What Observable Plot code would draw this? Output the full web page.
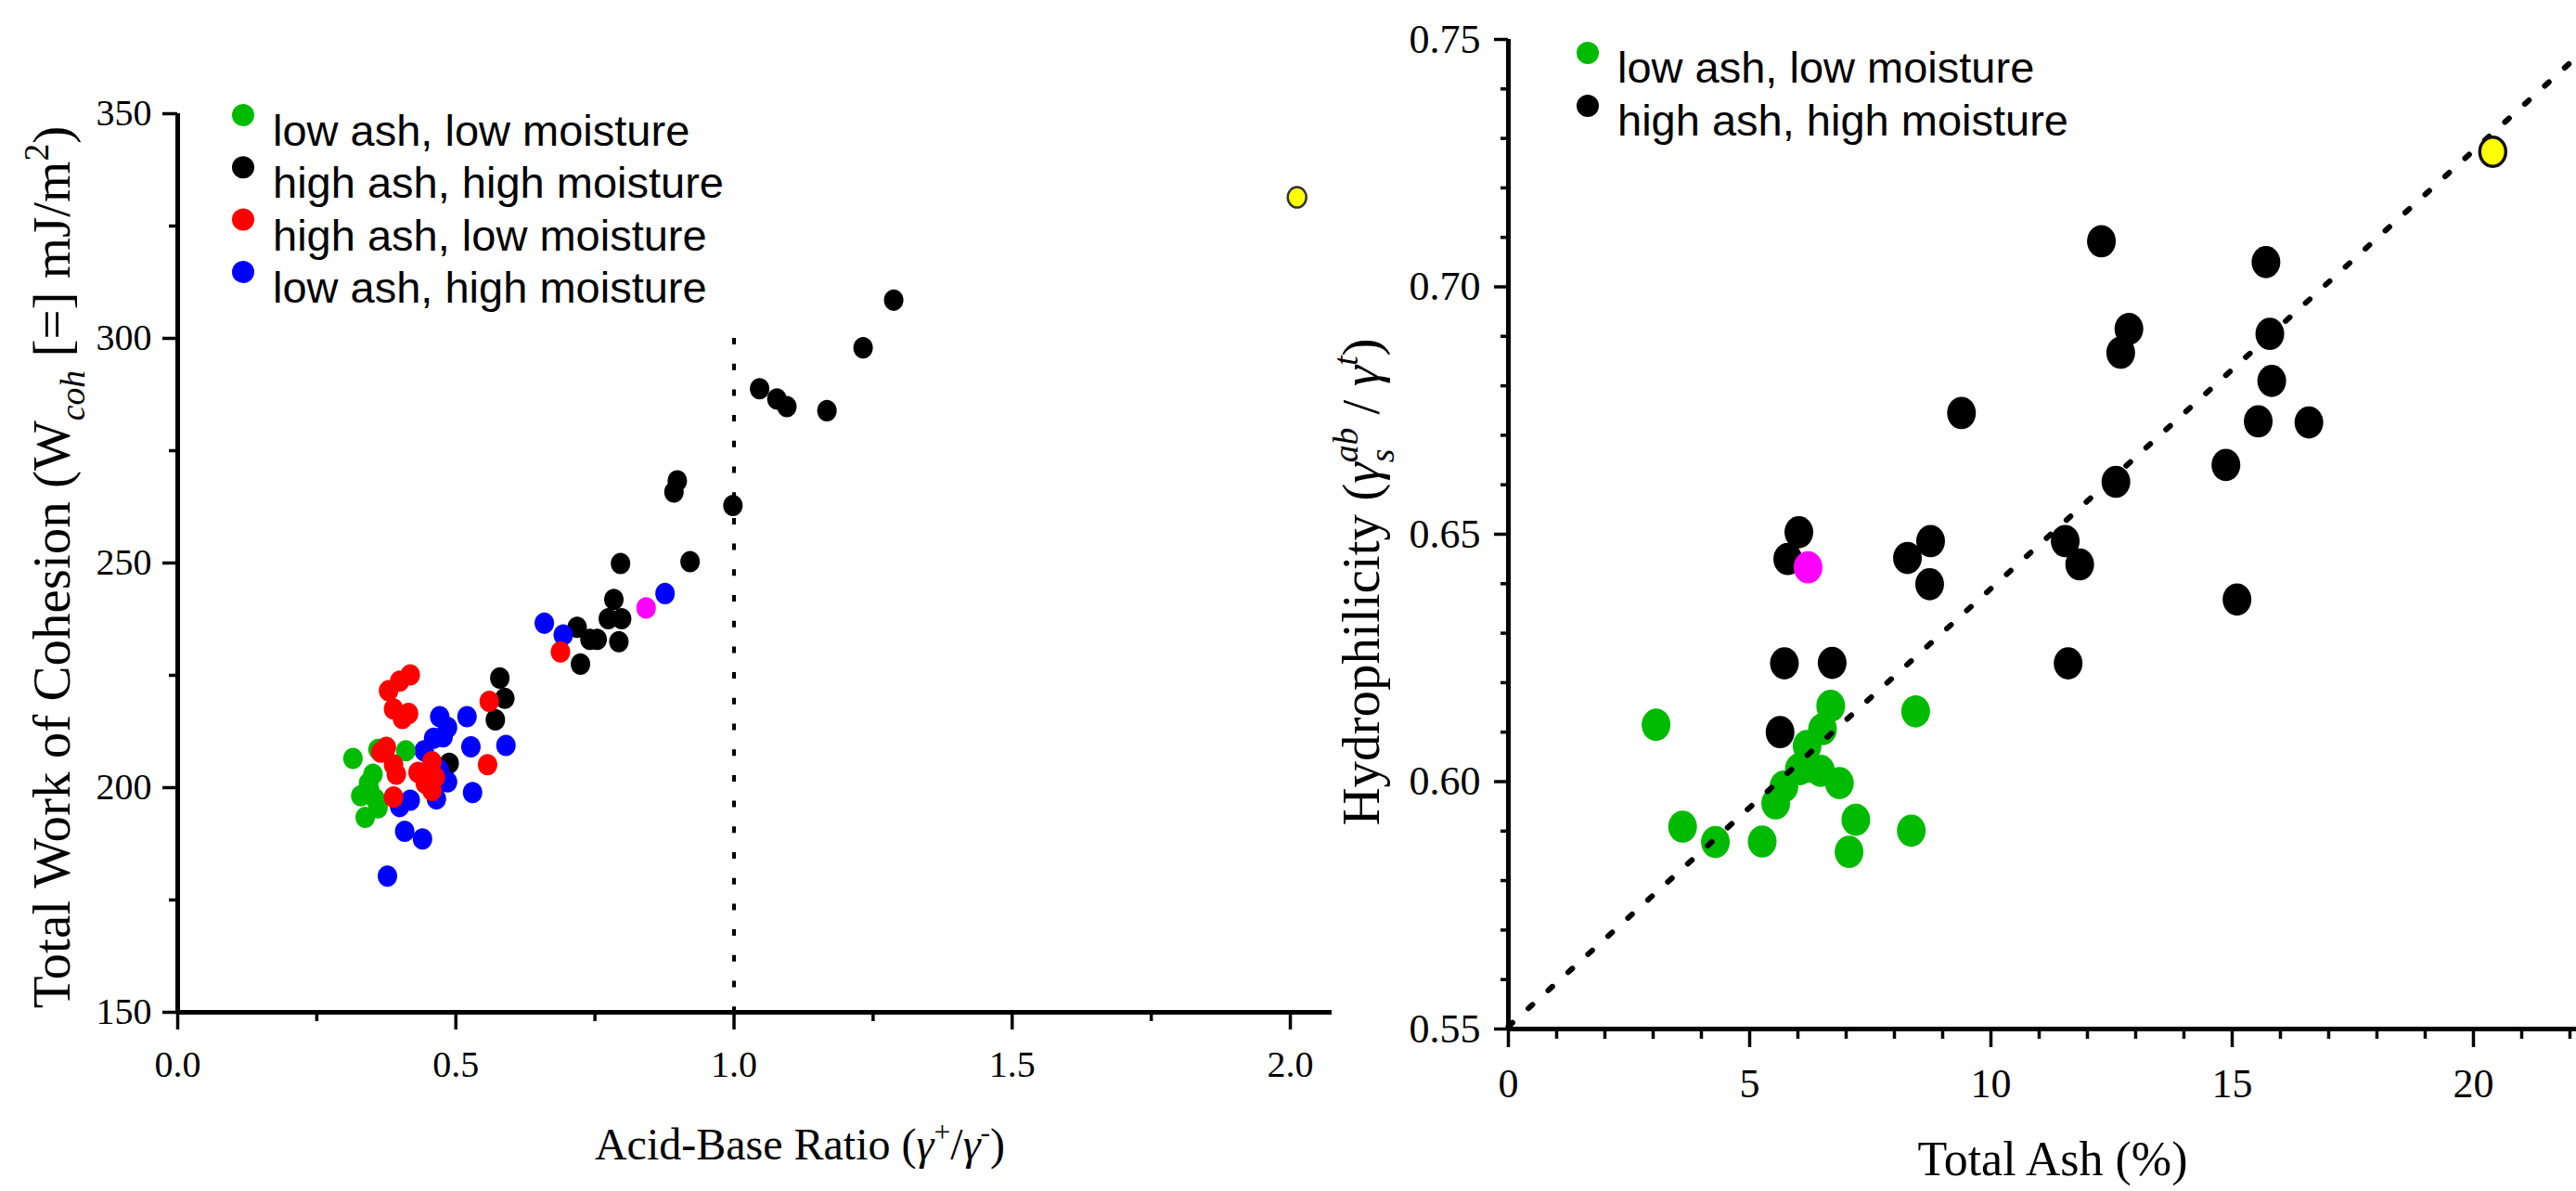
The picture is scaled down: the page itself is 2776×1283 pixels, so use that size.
<!DOCTYPE html>
<html><head><meta charset="utf-8">
<script src="https://cdn.jsdelivr.net/npm/d3@7"></script>
<script src="https://cdn.jsdelivr.net/npm/@observablehq/plot@0.6"></script>
<style>
html,body{margin:0;padding:0;background:#fff;}
#wrap{position:relative;width:2776px;height:1283px;overflow:hidden;background:#fff;}
#left{position:absolute;left:0;top:0;}
#right{position:absolute;left:1440px;top:0;}
</style></head>
<body><div id="wrap"><div id="left"></div><div id="right"></div></div>
<script>
// ---------- Left panel: Acid-Base Ratio vs Total Work of Cohesion ----------
const leftCategories = ["low ash, low moisture", "high ash, high moisture", "high ash, low moisture", "low ash, high moisture"];
const leftColors = ["#00bb00", "#000000", "#ff0000", "#0000ff"];

const cohBlackX = [0.796, 0.921, 0.784, 0.774, 0.798, 0.718, 0.741, 0.754, 0.793, 0.724, 0.579, 0.588, 0.571, 0.488, 1.287, 1.232, 1.046, 1.077, 1.095, 1.167, 0.898, 0.892, 0.998];
const cohBlackY = [249.9, 250.3, 241.9, 237.6, 237.6, 235.7, 233.0, 233.0, 232.5, 227.5, 224.4, 219.9, 215.1, 205.4, 308.5, 297.9, 288.8, 286.5, 284.8, 283.9, 268.3, 265.8, 262.8];
const cohBlueX = [0.876, 0.659, 0.693, 0.471, 0.520, 0.485, 0.477, 0.460, 0.443, 0.527, 0.590, 0.485, 0.465, 0.530, 0.418, 0.399, 0.408, 0.440, 0.377, 0.470];
const cohBlueY = [243.2, 236.6, 234.0, 215.8, 215.8, 213.4, 211.3, 211.0, 208.2, 209.1, 209.4, 201.3, 197.5, 198.9, 197.2, 195.8, 190.3, 188.6, 180.3, 204.0];
const cohGreenX = [0.315, 0.360, 0.410, 0.351, 0.343, 0.329, 0.355, 0.360, 0.337, 0.345];
const cohGreenY = [206.5, 208.5, 208.2, 203.0, 201.0, 198.2, 197.5, 195.5, 193.4, 199.5];
const cohRedX = [0.418, 0.399, 0.379, 0.388, 0.415, 0.404, 0.560, 0.688, 0.557, 0.365, 0.388, 0.393, 0.388, 0.432, 0.457, 0.463, 0.457, 0.375, 0.445];
const cohRedY = [225.1, 223.7, 221.6, 217.5, 216.5, 215.4, 219.2, 230.2, 205.1, 207.9, 205.1, 203.0, 197.9, 203.4, 205.8, 202.3, 199.4, 209.0, 201.0];
const cohMagentaX = [0.842];
const cohMagentaY = [240.0];
const cohYellowX = [2.012];
const cohYellowY = [331.4];
const dividerX = [1.0];
const dividerY = [150, 300];

const leftYTicks = [150, 200, 250, 300, 350];
const leftYTickLabels = ["150", "200", "250", "300", "350"];
const leftYMinor = [175, 225, 275, 325];
const leftXTicks = [0, 0.5, 1.0, 1.5, 2.0];
const leftXTickLabels = ["0.0", "0.5", "1.0", "1.5", "2.0"];
const leftXMinor = [0.25, 0.75, 1.25, 1.75];

// ---------- Right panel: Total Ash vs Hydrophilicity ----------
const rightCategories = ["low ash, low moisture", "high ash, high moisture"];
const rightColors = ["#00bb00", "#000000"];

const hydBlackX = [12.29, 15.70, 12.86, 12.69, 15.78, 15.82, 9.39, 15.54, 16.59, 14.87, 12.59, 6.02, 5.79, 8.75, 8.27, 8.73, 11.54, 11.84, 15.10, 5.72, 6.71, 11.60, 5.63];
const hydBlackY = [0.7092, 0.7050, 0.6915, 0.6867, 0.6905, 0.6810, 0.6745, 0.6728, 0.6726, 0.6640, 0.6606, 0.6504, 0.6450, 0.6486, 0.6452, 0.6399, 0.6486, 0.6439, 0.6368, 0.6239, 0.6240, 0.6239, 0.6100];
const hydGreenX = [3.06, 8.44, 6.68, 6.51, 6.19, 6.03, 6.47, 6.86, 5.71, 5.54, 3.61, 4.29, 5.26, 7.20, 7.06, 8.35, 6.25];
const hydGreenY = [0.6115, 0.6142, 0.6153, 0.6106, 0.6072, 0.6025, 0.6022, 0.5997, 0.5990, 0.5956, 0.5909, 0.5878, 0.5879, 0.5923, 0.5858, 0.5901, 0.6030];
const hydMagentaX = [6.21];
const hydMagentaY = [0.6433];
const hydYellowX = [20.40];
const hydYellowY = [0.7273];
const trendX = [0, 22.2];
const trendY = [0.5505, 0.7470];

const rightYTicks = [0.55, 0.60, 0.65, 0.70, 0.75];
const rightYTickLabels = ["0.55", "0.60", "0.65", "0.70", "0.75"];
const rightYMinor = [0.56, 0.57, 0.58, 0.59, 0.61, 0.62, 0.63, 0.64, 0.66, 0.67, 0.68, 0.69, 0.71, 0.72, 0.73, 0.74];
const rightXTicks = [0, 5, 10, 15, 20];
const rightXTickLabels = ["0", "5", "10", "15", "20"];
const rightXMinor = [1, 2, 3, 4, 6, 7, 8, 9, 11, 12, 13, 14, 16, 17, 18, 19, 21, 22];

// ---------- helpers ----------
const SERIF = "'Liberation Serif', 'Times New Roman', serif";
const SANS = "'Liberation Sans', Arial, sans-serif";
const ellipse = (ratio) => ({
  draw(ctx, size) {
    const rx = Math.sqrt(size / Math.PI), ry = rx * ratio, k = 0.5523;
    ctx.moveTo(rx, 0);
    ctx.bezierCurveTo(rx, k * ry, k * rx, ry, 0, ry);
    ctx.bezierCurveTo(-k * rx, ry, -rx, k * ry, -rx, 0);
    ctx.bezierCurveTo(-rx, -k * ry, -k * rx, -ry, 0, -ry);
    ctx.bezierCurveTo(k * rx, -ry, rx, -k * ry, rx, 0);
    ctx.closePath();
  }
});
const pts = (xs, ys) => xs.map((x, i) => ({x, y: ys[i]}));
const fmt = (ticks, labels) => (d) => labels[ticks.findIndex(t => Math.abs(t - d) < 1e-9)];

function tickFont(svg, size) {
  d3.select(svg).selectAll("g[aria-label$='tick label']")
    .style("font-size", size + "px").attr("font-size", size)
    .style("font-family", SERIF).attr("font-family", SERIF);
  d3.select(svg).selectAll("g[aria-label$='tick label'] text")
    .style("font-size", size + "px").style("font-family", SERIF);
}
function rich(svg, {x, y, rotate = 0, size, family = SERIF, anchor = "middle"}, parts) {
  const t = d3.select(svg).append("text")
    .attr("transform", `translate(${x},${y}) rotate(${rotate})`)
    .attr("text-anchor", anchor).attr("font-family", family)
    .attr("font-size", size).attr("fill", "black");
  let shift = 0, prev = null;
  for (const p of parts) {
    const ts = t.append("tspan").text(p.t);
    let target = 0, fs = size;
    if (p.sub) { target = 0.28 * size; fs = 0.66 * size; }
    if (p.sup) { target = -0.40 * size; fs = 0.66 * size; }
    if (p.italic) ts.attr("font-style", "italic");
    ts.attr("font-size", fs);
    if (target - shift !== 0) ts.attr("dy", target - shift);
    if (p.stack && prev) ts.attr("dx", -prev.node().getComputedTextLength());
    shift = target;
    prev = ts;
  }
  return t;
}
function legend(svg, {x, y0, step, textDx, textDy, size, r}, cats, colors) {
  const g = d3.select(svg).append("g").attr("text-anchor", "start");
  cats.forEach((c, i) => {
    g.append("circle").attr("cx", x).attr("cy", y0 + i * step).attr("r", r).attr("fill", colors[i]);
    g.append("text").attr("x", x + textDx).attr("y", y0 + i * step + textDy)
      .attr("text-anchor", "start")
      .attr("font-family", SANS).attr("font-size", size).attr("fill", "black").text(c);
  });
}

// ---------- left plot ----------
const leftDot = ellipse(1.1);
const leftSvg = Plot.plot({
  width: 1440, height: 1283,
  marginLeft: 191, marginRight: 5, marginTop: 122, marginBottom: 193,
  style: {fontFamily: SERIF, fontSize: "40px", background: "white", color: "black", overflow: "visible"},
  x: {domain: [0, 2.075]},
  y: {domain: [150, 350]},
  marks: [
    Plot.ruleX(dividerX, {y1: dividerY[1], y2: dividerY[0], stroke: "black", strokeWidth: 4, strokeDasharray: "7,20.7"}),
    Plot.dot(pts(cohBlackX, cohBlackY), {x: "x", y: "y", r: 10.5, fill: leftColors[1], symbol: leftDot}),
    Plot.dot(pts(cohBlueX, cohBlueY), {x: "x", y: "y", r: 10.5, fill: leftColors[3], symbol: leftDot}),
    Plot.dot(pts(cohGreenX, cohGreenY), {x: "x", y: "y", r: 10.5, fill: leftColors[0], symbol: leftDot}),
    Plot.dot(pts(cohRedX, cohRedY), {x: "x", y: "y", r: 10.5, fill: leftColors[2], symbol: leftDot}),
    Plot.dot(pts(cohMagentaX, cohMagentaY), {x: "x", y: "y", r: 10.5, fill: "#ff00ff", symbol: leftDot}),
    Plot.dot(pts(cohYellowX, cohYellowY), {x: "x", y: "y", r: 10, fill: "#ffff00", stroke: "#333", strokeWidth: 2.5, symbol: leftDot}),
    Plot.axisY({ticks: leftYMinor, tickSize: 9, tickFormat: () => "", strokeWidth: 3.5, label: null}),
    Plot.axisY({ticks: leftYTicks, tickSize: 16, tickPadding: 12, tickFormat: fmt(leftYTicks, leftYTickLabels), strokeWidth: 3.5, fontSize: 40, label: null}),
    Plot.axisX({ticks: leftXMinor, tickSize: 10, tickFormat: () => "", strokeWidth: 3.5, label: null}),
    Plot.axisX({ticks: leftXTicks, tickSize: 19, tickPadding: 22, tickFormat: fmt(leftXTicks, leftXTickLabels), strokeWidth: 3.5, fontSize: 40, label: null}),
    Plot.ruleX([0], {strokeWidth: 5}),
    Plot.ruleY([150], {strokeWidth: 5})
  ]
});
document.getElementById("left").appendChild(leftSvg);
tickFont(leftSvg, 40);
legend(leftSvg, {x: 262, y0: 124, step: 56.3, textDx: 32, textDy: 33, size: 47, r: 12}, leftCategories, leftColors);
rich(leftSvg, {x: 75, y: 611, rotate: -90, size: 57}, [
  {t: "Total Work of Cohesion (W"}, {t: "coh", sub: true, italic: true}, {t: " [=] mJ/m"}, {t: "2", sup: true}, {t: ")"}
]);
rich(leftSvg, {x: 862, y: 1249, size: 48}, [
  {t: "Acid-Base Ratio ("}, {t: "γ", italic: true}, {t: "+", sup: true}, {t: "/"}, {t: "γ", italic: true}, {t: "-", sup: true}, {t: ")"}
]);

// ---------- right plot ----------
const rightDot = ellipse(1.12);
const rightSvg = Plot.plot({
  width: 1336, height: 1283,
  marginLeft: 185, marginRight: 0, marginTop: 42, marginBottom: 175,
  style: {fontFamily: SERIF, fontSize: "44px", background: "white", color: "black", overflow: "visible"},
  x: {domain: [0, 22.135]},
  y: {domain: [0.55, 0.75]},
  marks: [
    Plot.dot(pts(hydBlackX, hydBlackY), {x: "x", y: "y", r: 15.5, fill: rightColors[1], symbol: rightDot}),
    Plot.dot(pts(hydGreenX, hydGreenY), {x: "x", y: "y", r: 15.5, fill: rightColors[0], symbol: rightDot}),
    Plot.dot(pts(hydMagentaX, hydMagentaY), {x: "x", y: "y", r: 15.5, fill: "#ff00ff", symbol: rightDot}),
    Plot.line(pts(trendX, trendY), {x: "x", y: "y", stroke: "black", strokeWidth: 6, strokeDasharray: "6,23"}),
    Plot.dot(pts(hydYellowX, hydYellowY), {x: "x", y: "y", r: 14, fill: "#ffff00", stroke: "#111", strokeWidth: 3.5, symbol: rightDot}),
    Plot.axisY({ticks: rightYMinor, tickSize: 8, tickFormat: () => "", strokeWidth: 3.5, label: null}),
    Plot.axisY({ticks: rightYTicks, tickSize: 15, tickPadding: 15, tickFormat: fmt(rightYTicks, rightYTickLabels), strokeWidth: 3.5, fontSize: 44, label: null}),
    Plot.axisX({ticks: rightXMinor, tickSize: 11, tickFormat: () => "", strokeWidth: 3.5, label: null}),
    Plot.axisX({ticks: rightXTicks, tickSize: 20, tickPadding: 22, tickFormat: fmt(rightXTicks, rightXTickLabels), strokeWidth: 3.5, fontSize: 44, label: null}),
    Plot.ruleX([0], {strokeWidth: 5}),
    Plot.ruleY([0.55], {strokeWidth: 5})
  ]
});
document.getElementById("right").appendChild(rightSvg);
tickFont(rightSvg, 44);
legend(rightSvg, {x: 271, y0: 57, step: 57, textDx: 32, textDy: 32, size: 47, r: 12}, rightCategories, rightColors);
rich(rightSvg, {x: 46, y: 627, rotate: -90, size: 57}, [
  {t: "Hydrophilicity ("}, {t: "γ", italic: true}, {t: "s", sub: true, italic: true}, {t: "ab", sup: true, italic: true, stack: true},
  {t: " / "}, {t: "γ", italic: true}, {t: "t", sup: true, italic: true}, {t: ")"}
]);
rich(rightSvg, {x: 772, y: 1266, size: 52}, [{t: "Total Ash (%)"}]);
</script>
</body></html>
